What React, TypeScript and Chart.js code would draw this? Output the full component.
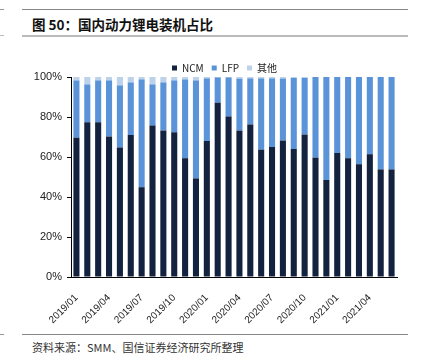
import React, { useEffect, useRef } from "react";
import { Chart, registerables } from "chart.js";

Chart.register(...registerables);

const months = [
  "2019/01","2019/02","2019/03","2019/04","2019/05","2019/06","2019/07","2019/08","2019/09","2019/10","2019/11","2019/12",
  "2020/01","2020/02","2020/03","2020/04","2020/05","2020/06","2020/07","2020/08","2020/09","2020/10","2020/11","2020/12",
  "2021/01","2021/02","2021/03","2021/04","2021/05","2021/06",
];
const ncm = [69.6, 77.4, 77.4, 70.3, 64.7, 71.0, 44.9, 75.7, 73.3, 72.4, 59.4, 49.3, 68.0, 87.1, 80.2, 73.3, 76.2, 63.7, 65.0, 68.3, 64.0, 71.3, 59.7, 48.5, 62.0, 59.4, 56.4, 61.4, 53.8, 53.8];
const lfp = [28.7, 18.9, 20.9, 28.0, 31.1, 26.3, 53.9, 20.6, 24.0, 25.9, 39.4, 49.0, 31.3, 12.7, 19.6, 25.9, 23.1, 35.6, 34.3, 30.9, 35.5, 28.2, 40.3, 51.5, 38.0, 40.6, 43.6, 38.6, 46.2, 46.2];
const other = [1.7, 3.7, 1.7, 1.7, 4.2, 2.7, 1.2, 3.7, 2.7, 1.7, 1.2, 1.7, 0.7, 0.2, 0.2, 0.8, 0.7, 0.7, 0.7, 0.8, 0.5, 0.5, 0, 0, 0, 0, 0, 0, 0, 0];
const yTicks = [0, 20, 40, 60, 80, 100];

const FONT = "'Liberation Sans', Arial, sans-serif";
const CJK = "'Noto Sans CJK SC', 'Liberation Sans', sans-serif";

const legendTweak = {
  id: "legendTweak",
  afterInit(chart: any) {
    const lg = chart.legend;
    if (!lg) return;
    const origFit = lg.fit.bind(lg);
    lg.fit = function () {
      origFit();
      this.height -= 6;
    };
    const origDraw = lg.draw.bind(lg);
    lg.draw = function (...args: any[]) {
      const ctx = chart.ctx;
      ctx.save();
      ctx.translate(26, 0);
      origDraw(...args);
      ctx.restore();
    };
  },
};

export default function App() {
  const ref = useRef<HTMLCanvasElement>(null);
  useEffect(() => {
    if (!ref.current) return;
    const chart = new Chart(ref.current, {
      type: "bar",
      data: {
        labels: months,
        datasets: [
          { label: "NCM", data: ncm, backgroundColor: "#13233f" },
          { label: "LFP", data: lfp, backgroundColor: "#5a93d8" },
          { label: "其他", data: other, backgroundColor: "#bcd1ea" },
        ],
      },
      plugins: [legendTweak],
      options: {
        animation: false,
        responsive: false,
        maintainAspectRatio: false,
        layout: { padding: { top: 6, right: 25, bottom: 0, left: 0 } },
        datasets: { bar: { categoryPercentage: 0.56, barPercentage: 1 } },
        plugins: {
          tooltip: { enabled: false },
          legend: {
            display: true,
            position: "top",
            labels: {
              boxWidth: 5,
              boxHeight: 5,
              padding: 8,
              color: "#222",
              font: { family: CJK, size: 10 },
            },
          },
        },
        scales: {
          x: {
            stacked: true,
            afterFit: (axis: any) => {
              axis.height = 52;
            },
            grid: { display: false, drawTicks: false },
            border: { color: "#000", width: 1 },
            ticks: {
              autoSkip: false,
              maxRotation: 45,
              minRotation: 45,
              padding: 15,
              color: "#222",
              font: { family: FONT, size: 10 },
              callback: (v: any, i: number) => (i % 3 === 0 ? months[i] : ""),
            },
          },
          y: {
            stacked: true,
            min: 0,
            max: 100,
            afterBuildTicks: (axis: any) => {
              axis.ticks = yTicks.map((v) => ({ value: v }));
            },
            afterFit: (axis: any) => {
              axis.width = 71;
            },
            grid: { display: true, drawOnChartArea: false, drawTicks: true, tickLength: 4, color: "#000" },
            border: { color: "#000", width: 1 },
            ticks: {
              padding: 5,
              color: "#222",
              font: { family: FONT, size: 11 },
              callback: (v: any) => v + "%",
            },
          },
        },
      },
    });
    return () => chart.destroy();
  }, []);

  return (
    <div style={{ position: "absolute", left: 0, top: 0, width: 422, height: 355, background: "#fff", overflow: "hidden" }}>
      <div style={{ position: "absolute", left: 0, top: 9, width: 4, height: 1, background: "#999" }} />
      <div style={{ position: "absolute", left: 22, top: 9, width: 386, height: 1, background: "#888" }} />
      <div
        style={{
          position: "absolute",
          left: 32,
          top: 15,
          fontFamily: CJK,
          fontWeight: 700,
          fontSize: 13.5,
          color: "#111",
          whiteSpace: "nowrap",
          lineHeight: "18px",
        }}
      >
        图 50：国内动力锂电装机占比
      </div>
      <div style={{ position: "absolute", left: 0, top: 35, width: 4, height: 1, background: "#bbb" }} />
      <div style={{ position: "absolute", left: 22, top: 35, width: 386, height: 2, background: "#bbb" }} />
      <canvas ref={ref} width={422} height={280} style={{ position: "absolute", left: 0, top: 49, width: 422, height: 280 }} />
      <div style={{ position: "absolute", left: 0, top: 334, width: 4, height: 1, background: "#999" }} />
      <div style={{ position: "absolute", left: 22, top: 334, width: 386, height: 1, background: "#888" }} />
      <div
        style={{
          position: "absolute",
          left: 32,
          top: 340,
          fontFamily: CJK,
          fontSize: 11,
          color: "#333",
          whiteSpace: "nowrap",
          lineHeight: "14px",
        }}
      >
        资料来源：SMM、国信证券经济研究所整理
      </div>
    </div>
  );
}
